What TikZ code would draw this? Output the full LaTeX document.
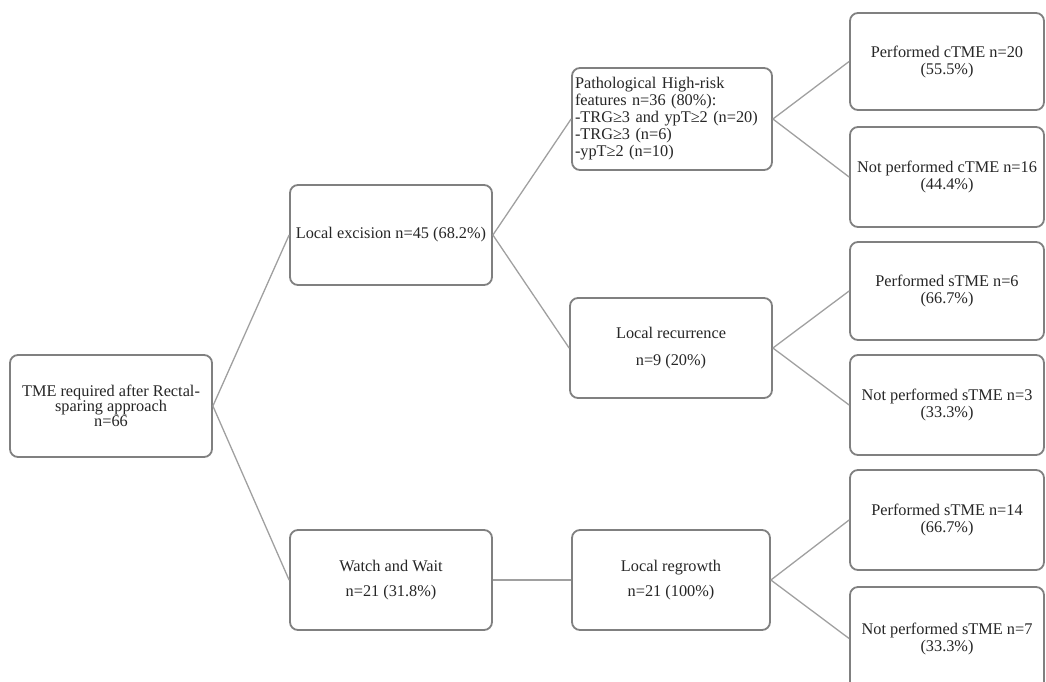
\documentclass[tikz,border=0pt]{standalone}
\usepackage{fontspec}
\setmainfont{Liberation Serif}
\begin{document}
\begin{tikzpicture}[x=1pt,y=-1pt,
  box/.style={draw=boxgray,line width=1.8pt,rounded corners=8pt,fill=white,inner sep=2pt,
    align=center,font=\fontsize{16.3}{17}\selectfont,text=black!85},
  conn/.style={draw=linegray,line width=1.3pt}]
\definecolor{boxgray}{RGB}{128,128,128}
\definecolor{linegray}{RGB}{160,160,160}
\useasboundingbox (0,0) rectangle (1046,681);
\node[box,minimum width=202pt,minimum height=102pt,font=\fontsize{16.3}{15}\selectfont] (root) at (111,406) {TME required after Rectal-\\sparing approach\\n=66};
\node[box,minimum width=202pt,minimum height=100pt] (le) at (391,235) {Local excision n=45 (68.2\%)};
\node[box,minimum width=202pt,minimum height=100pt] (ww) at (391,580) {Watch and Wait\\[8pt]n=21 (31.8\%)};
\node[box,minimum width=200pt,minimum height=102pt,text width=194pt,align=left] (path) at (672,119) {Pathological High-risk\\features n=36 (80\%):\\-TRG≥3 and ypT≥2 (n=20)\\-TRG≥3 (n=6)\\-ypT≥2 (n=10)};
\node[box,minimum width=202pt,minimum height=100pt] (lr) at (671,348) {Local recurrence\\[10pt]n=9 (20\%)};
\node[box,minimum width=198pt,minimum height=100pt] (lreg) at (671,580) {Local regrowth\\[8pt]n=21 (100\%)};
\node[box,minimum width=194pt,minimum height=97pt] (r1) at (947,61.5) {Performed cTME n=20\\(55.5\%)};
\node[box,minimum width=194pt,minimum height=100pt] (r2) at (947,177) {Not performed cTME n=16\\(44.4\%)};
\node[box,minimum width=194pt,minimum height=98pt] (r3) at (947,291) {Performed sTME n=6\\(66.7\%)};
\node[box,minimum width=194pt,minimum height=100pt] (r4) at (947,405) {Not performed sTME n=3\\(33.3\%)};
\node[box,minimum width=194pt,minimum height=100pt] (r5) at (947,520) {Performed sTME n=14\\(66.7\%)};
\node[box,minimum width=194pt,minimum height=103pt] (r6) at (947,638.5) {Not performed sTME n=7\\(33.3\%)};
\draw[conn] (root.east) -- (le.west);
\draw[conn] (root.east) -- (ww.west);
\draw[conn] (le.east) -- (path.west);
\draw[conn] (le.east) -- (lr.west);
\draw[conn] (ww.east) -- (lreg.west);
\draw[conn] (path.east) -- (r1.west);
\draw[conn] (path.east) -- (r2.west);
\draw[conn] (lr.east) -- (r3.west);
\draw[conn] (lr.east) -- (r4.west);
\draw[conn] (lreg.east) -- (r5.west);
\draw[conn] (lreg.east) -- (r6.west);
\end{tikzpicture}
\end{document}
